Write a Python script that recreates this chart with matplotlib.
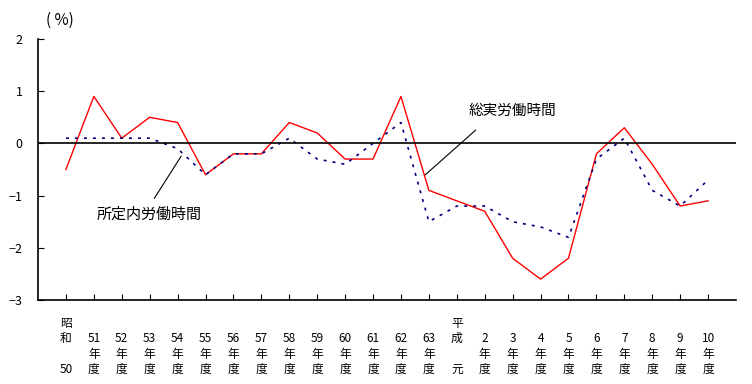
import numpy as np
import matplotlib
matplotlib.use("Agg")
import matplotlib.pyplot as plt

plt.rcParams['font.family'] = ['Noto Sans CJK JP', 'DejaVu Sans']

# カテゴリ（年度）
labels = ['昭\n和\n\n50'] + ['\n%d\n年\n度' % y for y in range(51, 64)] \
    + ['平\n成\n\n元'] + ['\n%d\n年\n度' % y for y in range(2, 11)]

# 総実労働時間（前年度比 %）
total_hours = [-0.5, 0.9, 0.1, 0.5, 0.4, -0.6, -0.2, -0.2, 0.4, 0.2, -0.3, -0.3,
               0.9, -0.9, -1.1, -1.3, -2.2, -2.6, -2.2, -0.2, 0.3, -0.4, -1.2, -1.1]
# 所定内労働時間（前年度比 %）
scheduled_hours = [0.1, 0.1, 0.1, 0.1, -0.1, -0.6, -0.2, -0.2, 0.1, -0.3, -0.4, 0.0,
                   0.4, -1.5, -1.2, -1.2, -1.5, -1.6, -1.8, -0.3, 0.1, -0.9, -1.2, -0.7]

x = np.arange(len(labels))

fig = plt.figure(figsize=(7.52, 3.84), dpi=100)
ax = fig.add_axes([38 / 752, 84 / 384, (736 - 38) / 752, (300 - 39) / 384])

ax.plot(x, total_hours, color='#ff0000', linewidth=1.0)
ax.plot(x, scheduled_hours, color='#000080', linewidth=1.2, linestyle=(0, (1.8, 3.6)))
ax.axhline(0, color='black', linewidth=1.2)

ax.set_xlim(-1, len(labels))
ax.set_ylim(-3, 2)
ax.set_yticks(range(-3, 3))
ax.set_xticks(x)
ax.set_xticklabels(labels, fontsize=8.5, linespacing=1.25, va='top')

for s in ['top', 'right']:
    ax.spines[s].set_visible(False)
ax.spines['left'].set_linewidth(1.2)
ax.spines['bottom'].set_linewidth(1.2)
ax.tick_params(axis='y', direction='in', length=4, pad=11, labelsize=9)
ax.tick_params(axis='x', direction='in', length=4, pad=12)

# 注記
ax.text(14.43, 0.62, '総実労働時間', fontsize=10.5, va='center', ha='left')
ax.annotate('', xy=(12.79, -0.64), xytext=(14.75, 0.29),
            arrowprops=dict(arrowstyle='-', color='black', lw=0.8))
ax.text(1.11, -1.37, '所定内労働時間', fontsize=10.8, va='center', ha='left')
ax.annotate('', xy=(4.18, -0.2), xytext=(3.11, -1.10),
            arrowprops=dict(arrowstyle='-', color='black', lw=0.8))

fig.text(60 / 752, 1 - 20 / 384, '( %)', fontsize=11, ha='center', va='center')

fig.savefig('out.png', dpi=100)
